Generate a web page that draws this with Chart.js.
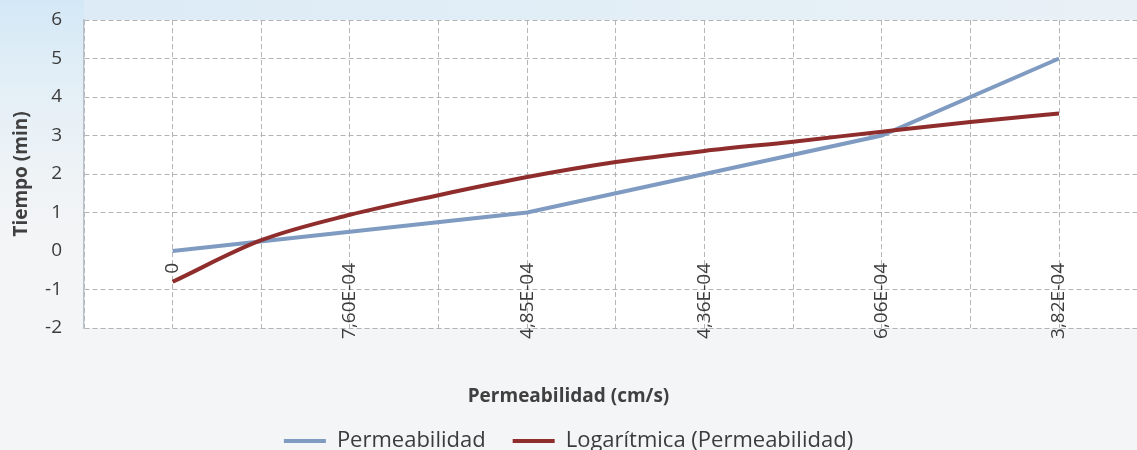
<!DOCTYPE html>
<html><head><meta charset="utf-8">
<script src="https://cdn.jsdelivr.net/npm/chart.js@4"></script>
<style>html,body{margin:0;padding:0;background:#f5f6f7}#wrap{width:1137px;height:450px}</style>
</head><body><div id="wrap"><canvas id="c" width="1137" height="450"></canvas></div>
<script>
const categories = ['0', '7,60E-04', '4,85E-04', '4,36E-04', '6,06E-04', '3,82E-04'];
const tiempo = [0, 0.5, 1, 2, 3, 5];
const trendPos = [1, 1.5, 2, 2.5, 3, 3.5, 4, 4.5, 5, 5.5, 6];
const trendVal = [-0.8, 0.28, 0.94, 1.45, 1.92, 2.31, 2.6, 2.84, 3.1, 3.35, 3.57];
const yTicks = [-2, -1, 0, 1, 2, 3, 4, 5, 6];

const FONT = 'Open Sans';
const TXT = '#3c3c3c';
const GRID = '#b4b4b4';
const gridPos = categories.flatMap((c, i) => [i + 0.5, i + 1]);

const bg = {
  id: 'bg',
  beforeDraw(chart) {
    const {ctx, chartArea: a, width, height} = chart;
    ctx.save();
    ctx.fillStyle = '#f4f5f6';
    ctx.fillRect(0, 0, width, height);
    let g = ctx.createLinearGradient(0, 0, 0, a.top + (a.bottom - a.top) * 0.8);
    g.addColorStop(0, '#d3e8f6');
    g.addColorStop(1, 'rgba(235,242,247,0)');
    ctx.fillStyle = g;
    ctx.fillRect(0, 0, a.left, a.top + (a.bottom - a.top) * 0.8);
    g = ctx.createLinearGradient(a.left, 0, width, 0);
    g.addColorStop(0, '#dcebf6');
    g.addColorStop(1, '#e9f1f6');
    ctx.fillStyle = g;
    ctx.fillRect(a.left, 0, width - a.left, a.top);
    ctx.fillStyle = '#ffffff';
    ctx.fillRect(a.left, a.top, a.right - a.left, a.bottom - a.top);
    ctx.restore();
  }
};

new Chart(document.getElementById('c'), {
  type: 'line',
  data: {
    datasets: [
      {
        label: 'Permeabilidad',
        data: categories.map((c, i) => ({x: i + 1, y: tiempo[i]})),
        borderColor: '#7f9bc2',
        backgroundColor: '#7f9bc2',
        borderWidth: 4,
        pointRadius: 0,
        pointStyle: 'line',
        tension: 0,
        order: 2
      },
      {
        label: 'Logarítmica (Permeabilidad)',
        data: trendPos.map((x, i) => ({x: x, y: trendVal[i]})),
        borderColor: '#8f2d2d',
        backgroundColor: '#8f2d2d',
        borderWidth: 4,
        pointRadius: 0,
        pointStyle: 'line',
        cubicInterpolationMode: 'monotone',
        order: 1
      }
    ]
  },
  options: {
    responsive: false,
    animation: false,
    devicePixelRatio: 1,
    layout: {padding: {top: 20, left: 0, right: 0, bottom: 0}},
    scales: {
      x: {
        type: 'linear',
        position: {y: 0},
        min: 0.5,
        max: 6.44,
        afterBuildTicks: s => { s.ticks = gridPos.map(v => ({value: v})); },
        ticks: {
          autoSkip: false, minRotation: 90, maxRotation: 90, padding: 12,
          color: TXT, font: {family: FONT, size: 19},
          callback: v => Number.isInteger(v) ? categories[v - 1] : ''
        },
        grid: {color: GRID, lineWidth: 1, drawTicks: false},
        border: {display: false, dash: [5, 3]}
      },
      y: {
        min: -2, max: 6,
        afterBuildTicks: s => { s.ticks = yTicks.map(v => ({value: v})); },
        afterFit: s => { s.width = 84; s.paddingTop = 10; s.paddingBottom = 10; },
        ticks: {padding: 22, color: TXT, font: {family: FONT, size: 19}},
        grid: {color: c => (c.tick && c.tick.value === 0) ? 'rgba(0,0,0,0)' : GRID, lineWidth: 1, drawTicks: false},
        border: {display: true, color: '#b9c0c9', width: 1.5, dash: [5, 3]},
        title: {display: true, text: 'Tiempo (min)', color: '#404040', font: {family: FONT, size: 19, weight: 'bold'}, padding: {top: 10, bottom: 0}}
      }
    },
    plugins: {
      tooltip: {enabled: false},
      title: {
        display: true, position: 'bottom', weight: 2000,
        text: 'Permeabilidad (cm/s)', color: '#404040',
        font: {family: FONT, size: 19, weight: 'bold'},
        padding: {top: 57.6, bottom: -5.4}
      },
      legend: {
        display: true, position: 'bottom', weight: 3000, maxHeight: 47,
        labels: {
          usePointStyle: true, pointStyleWidth: 42, padding: 27,
          color: TXT, font: {family: FONT, size: 22},
          sort: (a, b) => a.datasetIndex - b.datasetIndex
        }
      }
    }
  },
  plugins: [bg]
});
</script>
</body></html>
